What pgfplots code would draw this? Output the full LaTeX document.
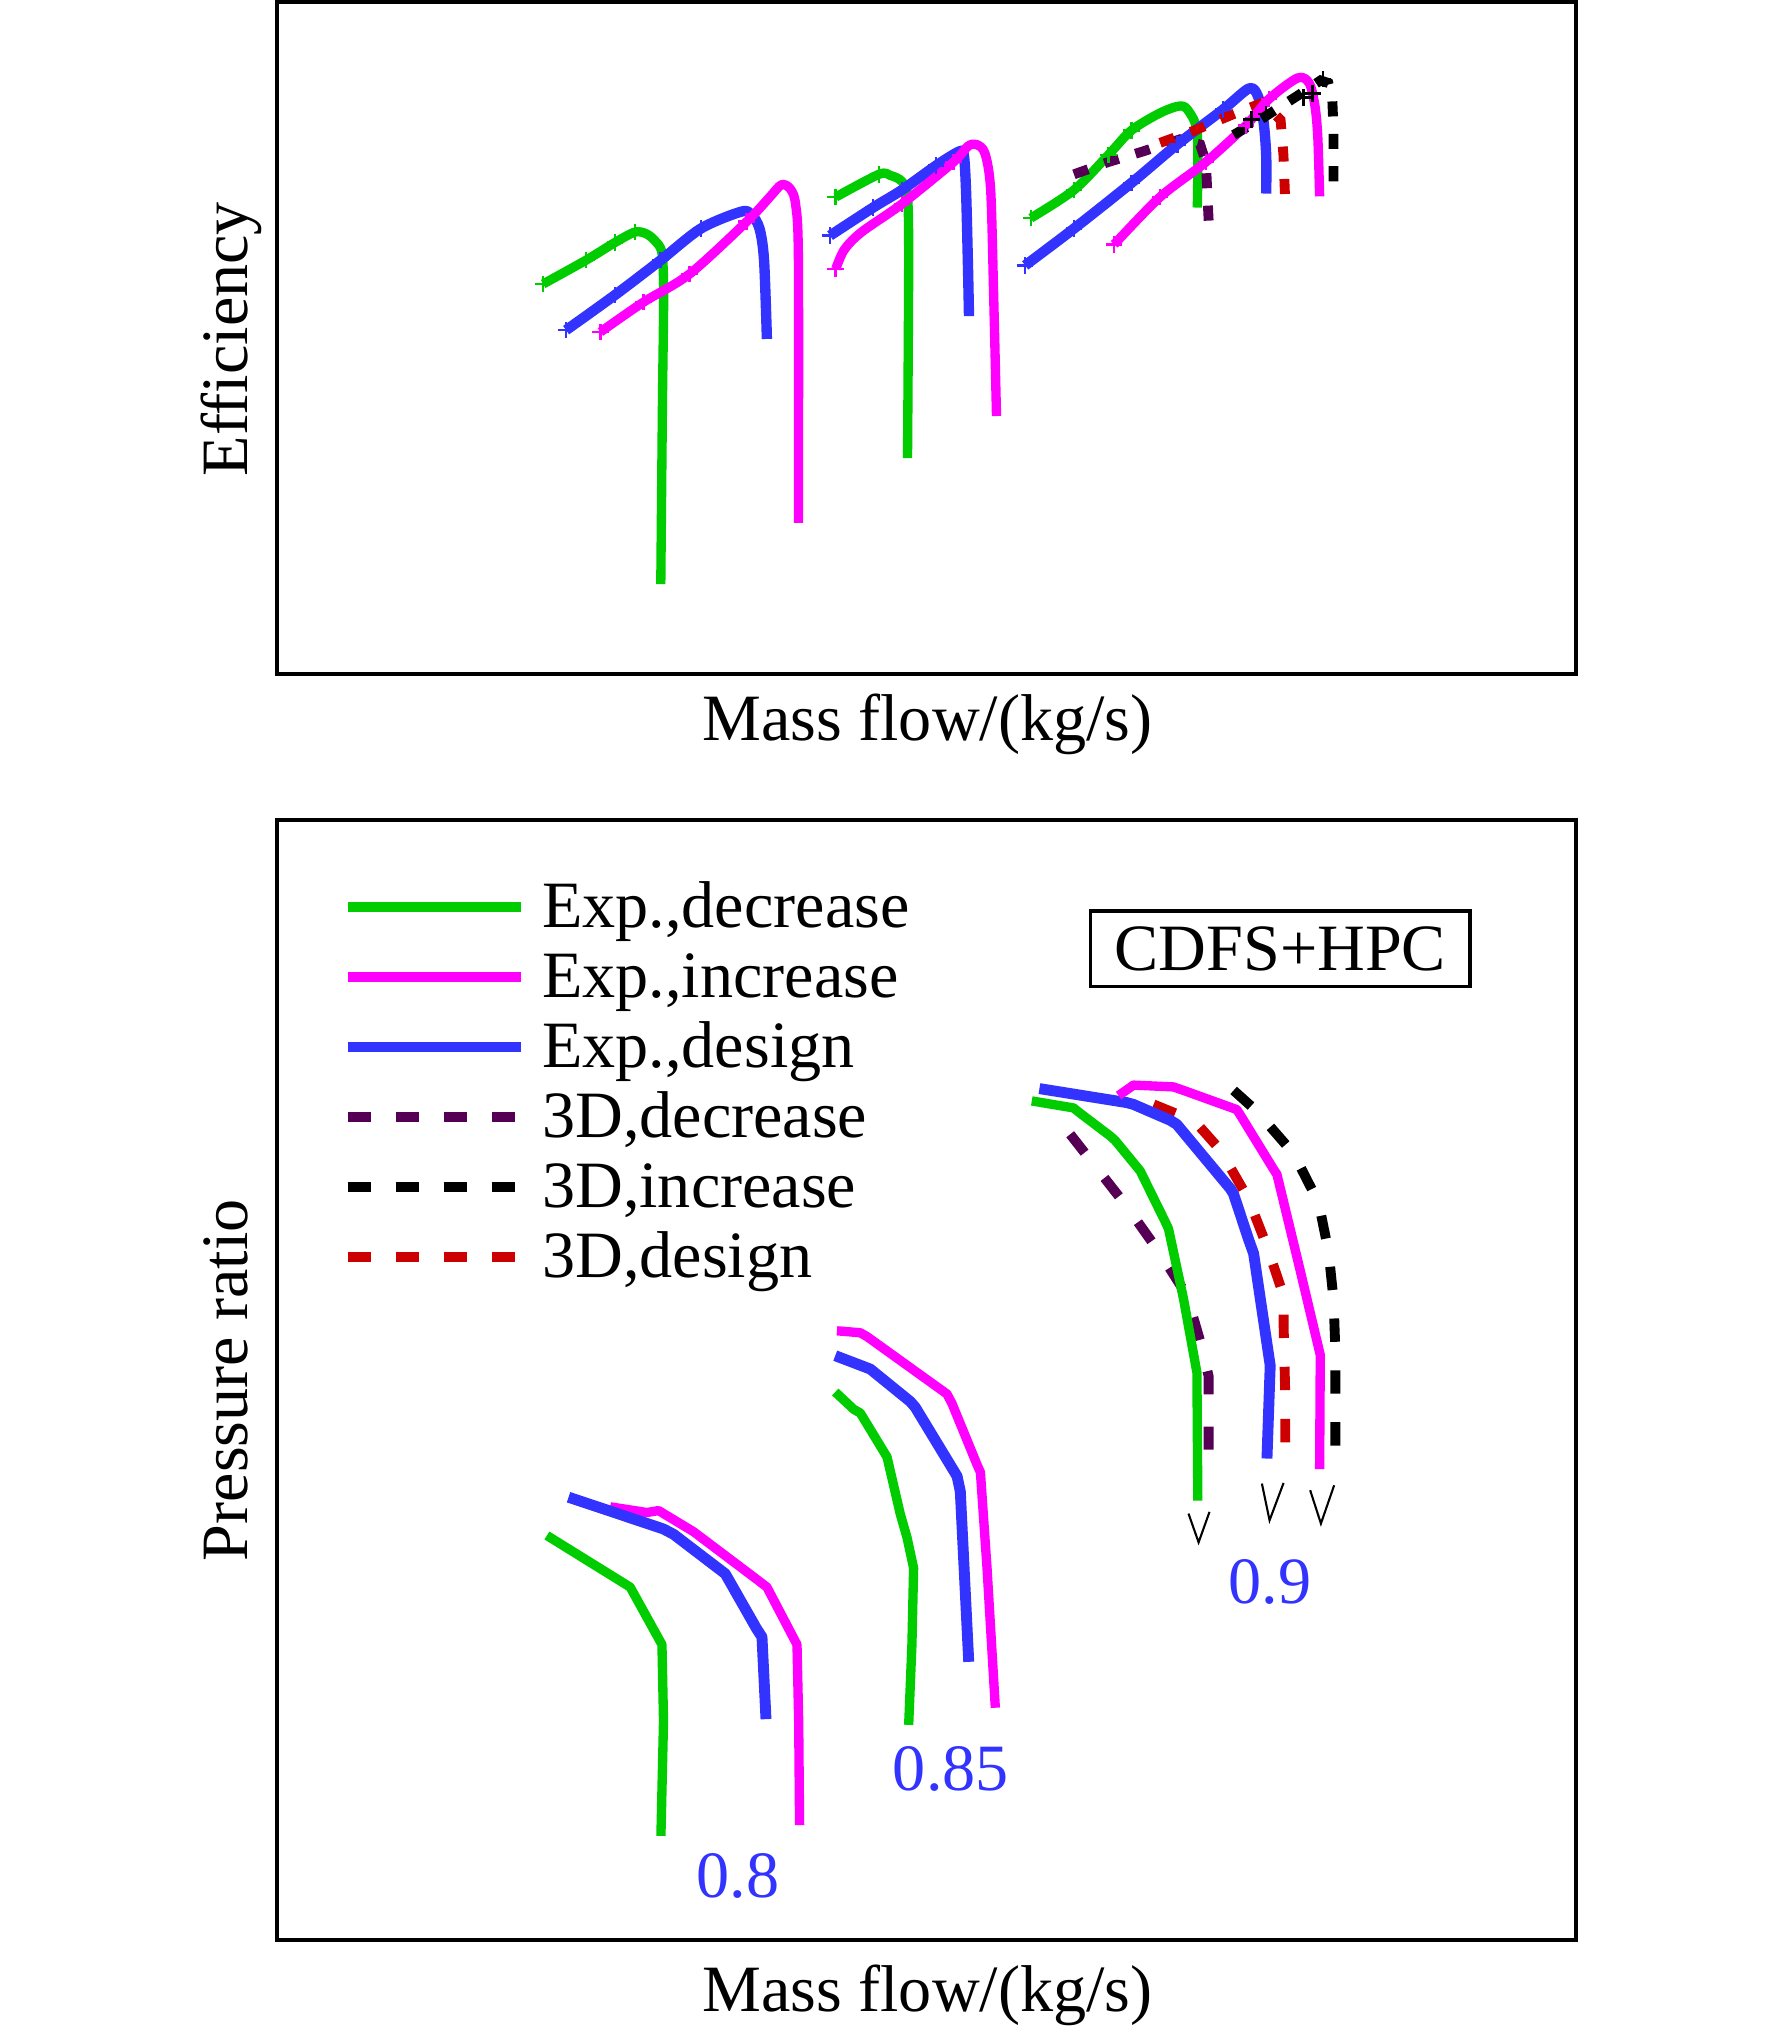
\documentclass[border=0pt]{standalone}
\usepackage{fontspec}
\setmainfont{Liberation Serif}
\usepackage{pgfplots}
\pgfplotsset{compat=1.18}
\definecolor{expgreen}{RGB}{0,204,0}
\definecolor{expmag}{RGB}{255,0,255}
\definecolor{expblue}{RGB}{51,51,255}
\definecolor{dpurple}{RGB}{85,0,85}
\definecolor{dred}{RGB}{204,0,0}
\newcommand{\fs}{\fontsize{12.75pt}{15pt}\selectfont}
\pgfplotsset{
  expline/.style={line width=1.8pt, line join=round},
  topdash/.style={line width=1.9pt, dash pattern=on 2.9pt off 3.35pt},
  botdash/.style={line width=1.9pt, dash pattern=on 4.5pt off 4.75pt},
  crosses/.style={only marks, mark=+, mark size=1.6pt, line width=0.5pt, forget plot},
}
\begin{document}
\begin{tikzpicture}[font=\fs]
\path[use as bounding box] (0,0) rectangle (341.5pt,392pt);
% ---------------- Efficiency ----------------
\begin{axis}[
  at={(53.45pt,262.075pt)}, anchor=south west,
  scale only axis, width=250.325pt, height=129.55pt,
  xmin=213.8, xmax=1215.1, ymin=-519.7, ymax=-1.5,
  xtick=\empty, ytick=\empty, clip=false,
  axis line style={line width=0.78pt},
]
% speed 0.8
\addplot[expgreen, expline, smooth, tension=0.5, forget plot] coordinates {(418.7,-218.9) (451.9,-200.5) (474.0,-187.0) (489.5,-178.9) (498.3,-180.3) (505.0,-185.7) (510.3,-195.1) (511.6,-227.5) (510.7,-308.5) (509.4,-450.3)};
\addplot[expblue, expline, line width=2pt, smooth, tension=0.5, forget plot] coordinates {(436.4,-254.5) (474.0,-227.5) (509.4,-200.5) (540.3,-176.2) (571.3,-163.2) (579.3,-165.4) (585.5,-176.2) (589.0,-200.5) (591.2,-261.3)};
\addplot[expmag, expline, smooth, tension=0.5, forget plot] coordinates {(462.9,-255.9) (496.1,-232.9) (531.5,-211.3) (575.7,-170.8) (593.4,-151.9) (602.3,-142.5) (608.9,-145.2) (613.3,-157.3) (615.5,-200.5) (615.5,-403.0)};
% speed 0.85
\addplot[expgreen, expline, smooth, tension=0.5, forget plot] coordinates {(644.3,-151.9) (677.5,-134.4) (686.3,-135.2) (695.2,-139.8) (699.6,-151.9) (700.5,-200.5) (699.6,-353.1)};
\addplot[expblue, expline, line width=2pt, smooth, tension=0.5, forget plot] coordinates {(639.9,-181.6) (673.1,-160.0) (695.2,-146.5) (721.7,-127.6) (739.4,-116.8) (743.0,-119.5) (744.7,-146.5) (746.1,-200.5) (747.0,-243.7)};
\addplot[expmag, expline, smooth, tension=0.5, forget plot] coordinates {(644.3,-207.3) (650.9,-192.4) (664.2,-178.9) (695.2,-157.3) (735.0,-124.9) (746.1,-112.8) (752.7,-111.4) (759.3,-118.2) (763.7,-146.5) (766.0,-227.5) (768.2,-320.7)};
% speed 0.9
\addplot[expgreen, expline, smooth, tension=0.5, forget plot] coordinates {(794.7,-168.1) (827.9,-146.5) (854.4,-119.5) (872.1,-100.6) (894.3,-87.1) (909.7,-81.7) (916.4,-85.8) (923.0,-103.3) (923.0,-160.0)};
\addplot[dpurple, topdash, forget plot] coordinates {(827.9,-134.4) (854.4,-124.9) (880.9,-116.8) (909.7,-107.4) (925.2,-111.4) (929.6,-124.9) (931.9,-173.5)};
\addplot[expblue, expline, line width=2pt, smooth, tension=0.5, forget plot] coordinates {(790.3,-204.6) (827.9,-176.2) (872.1,-141.1) (907.5,-111.4) (942.9,-84.4) (962.8,-68.2) (969.5,-73.6) (973.9,-92.5) (976.1,-119.5) (976.1,-149.2)};
\addplot[dred, topdash, forget plot] coordinates {(894.3,-110.1) (920.8,-100.6) (949.6,-88.5) (973.9,-79.0) (987.2,-92.5) (989.4,-119.5) (990.7,-153.3)};
\addplot[expmag, expline, smooth, tension=0.5, forget plot] coordinates {(858.9,-188.4) (894.3,-151.9) (929.6,-124.9) (960.6,-96.6) (978.3,-76.3) (1000.4,-60.1) (1009.3,-64.2) (1013.7,-81.7) (1015.9,-106.0) (1017.3,-151.4)};
\addplot[black, topdash, forget plot] coordinates {(951,-104) (975,-90) (1000,-74) (1018,-62) (1024,-64) (1027,-75) (1028,-100) (1028,-140)};
% crosses on the measured points
\addplot[expgreen, crosses] coordinates {(418.7,-218.9) (451.9,-200.5) (474.0,-187.0) (489.5,-178.9) (644.3,-151.9) (677.5,-134.4) (794.7,-168.1) (827.9,-146.5) (854.4,-119.5) (872.1,-100.6)};
\addplot[expblue, crosses] coordinates {(436.4,-254.5) (474.0,-227.5) (509.4,-200.5) (540.3,-176.2) (639.9,-181.6) (673.1,-160.0) (695.2,-146.5) (721.7,-127.6) (790.3,-204.6) (827.9,-176.2) (872.1,-141.1) (907.5,-111.4) (942.9,-84.4)};
\addplot[expmag, crosses] coordinates {(462.9,-255.9) (496.1,-232.9) (531.5,-211.3) (575.7,-170.8) (644.3,-207.3) (695.2,-157.3) (735.0,-124.9) (858.9,-188.4) (894.3,-151.9) (929.6,-124.9) (960.6,-96.6) (978.3,-76.3)};
\addplot[black, crosses] coordinates {(965,-92) (976,-88) (1005,-75) (1012,-72) (1020,-61)};
\node[font=\fs, rotate=90, anchor=base] at (axis cs:191,-261.5) {Efficiency};
\node[font=\fs, anchor=base] at (axis cs:715,-571) {Mass flow/(kg/s)};
\end{axis}
% ---------------- Pressure ratio ----------------
\begin{axis}[
  at={(53.45pt,18.125pt)}, anchor=south west,
  scale only axis, width=250.325pt, height=215.75pt,
  xmin=213.8, xmax=1215.1, ymin=-1495.5, ymax=-632.5,
  xtick=\empty, ytick=\empty, clip=false,
  axis line style={line width=0.78pt},
  legend cell align=left,
  legend style={at={(axis cs:264.2,-679)}, anchor=north west, draw=none, fill=none,
    inner sep=0pt, outer sep=0pt, font=\fs, row sep=1.5pt, column sep=3.05pt,
    nodes={inner sep=0pt, text height=9pt, text depth=3pt}},
  legend image code/.code={\draw[#1] (0pt,1pt) -- (33.5pt,1pt);},
]
\addlegendimage{expgreen, line width=1.9pt}
\addlegendimage{expmag, line width=1.9pt}
\addlegendimage{expblue, line width=1.9pt}
\addlegendimage{dpurple, botdash}
\addlegendimage{black, botdash}
\addlegendimage{dred, botdash}
% speed 0.8
\addplot[expgreen, expline, forget plot] coordinates {(421.6,-1183.7) (485.8,-1223.5) (510.3,-1267.8) (511.5,-1326.8) (509.5,-1415.3)};
\addplot[expmag, expline, forget plot] coordinates {(470.4,-1161.6) (498.7,-1166.0) (507.7,-1164.5) (534.7,-1180.8) (583.5,-1217.6) (591.2,-1223.5) (614.4,-1267.8) (615.7,-1326.8) (616.4,-1407.0)};
\addplot[expblue, expline, line width=2.1pt, forget plot] coordinates {(438.3,-1154.2) (478.1,-1167.5) (511.5,-1178.7) (519.3,-1182.8) (559.1,-1213.2) (583.5,-1256.0) (587.4,-1261.9) (590.5,-1325.3)};
% speed 0.85
\addplot[expgreen, expline, forget plot] coordinates {(643.9,-1073.1) (658.1,-1086.4) (663.2,-1089.3) (683.8,-1123.2) (694.1,-1167.5) (699.2,-1185.2) (704.3,-1208.8) (703.0,-1267.8) (700.5,-1329.7)};
\addplot[expblue, expline, line width=2.1pt, forget plot] coordinates {(643.9,-1045.1) (670.9,-1055.4) (701.8,-1080.5) (705.6,-1084.9) (737.8,-1138.0) (740.3,-1149.8) (746.8,-1281.1)};
\addplot[expmag, expline, forget plot] coordinates {(645.2,-1025.9) (663.2,-1027.4) (668.3,-1030.3) (730.0,-1074.6) (733.9,-1082.0) (753.2,-1129.1) (755.8,-1135.0) (760.9,-1208.8) (767.3,-1316.5)};
% speed 0.9
\addplot[dpurple, botdash, dash pattern=on 4.5pt off 6.2pt, forget plot] coordinates {(825.0,-874.4) (867.4,-928.4) (894.4,-966.3) (915.0,-998.7) (925.2,-1033.8) (931.7,-1060.8) (931.7,-1117.6)};
\addplot[expgreen, expline, forget plot] coordinates {(795.4,-848.7) (827.6,-854.1) (832.7,-858.2) (855.8,-875.7) (859.7,-879.2) (879.0,-902.7) (898.3,-941.9) (900.8,-947.3) (912.4,-1001.4) (922.7,-1058.1) (923.4,-1156.8)};
\addplot[dred, botdash, dash pattern=on 4.5pt off 5.55pt, forget plot] coordinates {(889.3,-851.4) (906.0,-858.2) (925.2,-869.0) (940.7,-886.5) (962.5,-924.4) (976.7,-960.8) (989.5,-998.7) (989.5,-1020.3) (990.8,-1075.7) (990.8,-1112.2)};
\addplot[expblue, expline, line width=2.1pt, forget plot] coordinates {(801.3,-839.2) (868.7,-850.0) (873.8,-851.4) (902.1,-863.6) (907.2,-866.8) (948.4,-916.3) (950.9,-920.3) (962.5,-955.4) (966.4,-966.3) (979.2,-1052.7) (976.7,-1124.4)};
\addplot[expmag, expline, forget plot] coordinates {(862.3,-844.6) (873.8,-836.5) (904.7,-837.9) (912.4,-840.6) (953.5,-855.4) (956.1,-859.5) (981.8,-901.4) (984.4,-905.4) (999.8,-969.0) (1002.4,-979.8) (1017.8,-1044.6) (1017.3,-1132.5)};
\addplot[black, botdash, dash pattern=on 4.5pt off 5.5pt, forget plot] coordinates {(951.0,-840.6) (969.0,-856.8) (997.2,-889.2) (1016.5,-927.1) (1024.2,-964.9) (1028.1,-1002.7) (1029.4,-1040.6) (1029.4,-1114.9)};
% surge marks
\addplot[black, line width=0.4pt, forget plot] coordinates {(916.2,-1166.8) (924.0,-1189.0) (932.4,-1165.5)};
\addplot[black, line width=0.4pt, forget plot] coordinates {(972.8,-1143.7) (978.7,-1172.0) (989.5,-1143.2)};
\addplot[black, line width=0.4pt, forget plot] coordinates {(1010.0,-1148.8) (1018.3,-1174.5) (1028.5,-1145.0)};
\legend{{Exp.,decrease}, {Exp.,increase}, {Exp.,design}, {3D,decrease}, {3D,increase}, {3D,design}}
\node[font=\fs, text=expblue, anchor=base] at (axis cs:569,-1463) {0.8};
\node[font=\fs, text=expblue, anchor=base] at (axis cs:733,-1380) {0.85};
\node[font=\fs, text=expblue, anchor=base] at (axis cs:979,-1236) {0.9};
\node[font=\fs, draw, line width=0.75pt, minimum width=73.15pt, minimum height=14.475pt, inner sep=0pt] at (axis cs:987,-731.5) {CDFS+HPC};
\node[font=\fs, rotate=90, anchor=base] at (axis cs:191,-1064) {Pressure ratio};
\node[font=\fs, anchor=base] at (axis cs:715,-1551) {Mass flow/(kg/s)};
\end{axis}
\end{tikzpicture}
\end{document}
